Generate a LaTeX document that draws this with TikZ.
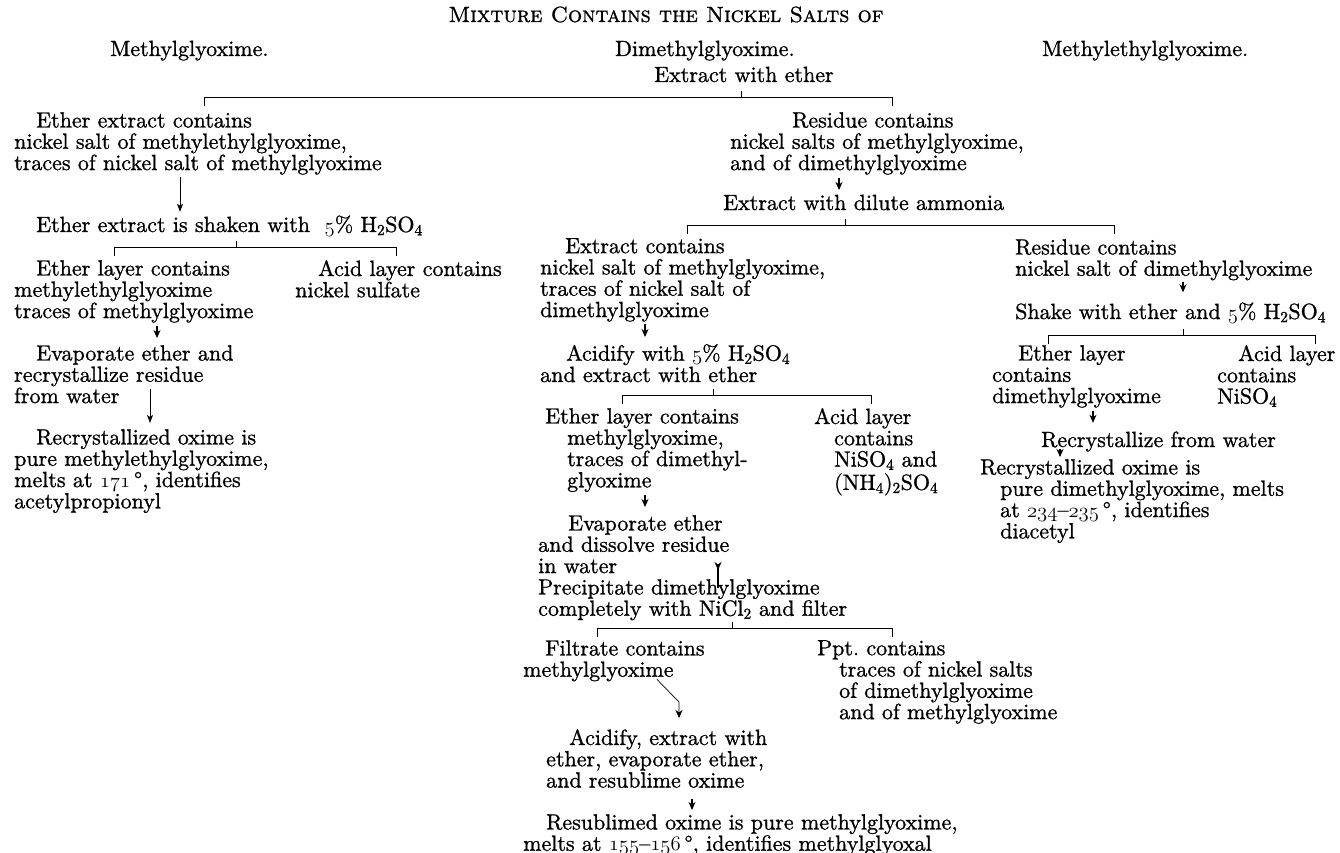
\documentclass[tikz,border=0pt]{standalone}
\usepackage{fontspec}
\setmainfont{lmroman10-regular.otf}[FakeBold=1, SmallCapsFont=lmromancaps10-regular.otf, SmallCapsFeatures={FakeBold=1}]
\usetikzlibrary{arrows.meta}
\newcommand\osn[1]{{\usefont{OML}{cmm}{m}{it}#1}}
\newcommand\sub[1]{\textsubscript{#1}}
\begin{document}
\begin{tikzpicture}[x=1pt, y=-1pt,
  every node/.style={inner sep=0pt, font=\fontsize{22}{21.3}\selectfont},
  blk/.style={anchor=north west, align=left},
  lbl/.style={anchor=base west},
  brk/.style={line width=0.8pt},
  lng/.style={line width=0.9pt, -{Stealth[length=8pt,width=6pt,inset=2pt]}},
  sht/.style={line width=1.1pt, -{Stealth[length=8pt,width=7pt,inset=2.5pt]}}]
\fill[white] (0,0) rectangle (1340,853);
\useasboundingbox (0,0) rectangle (1340,853);
\node[anchor=base] (ttl) at (666,22) {\textsc{Mixture Contains the Nickel Salts of}};
\node[lbl] (mg) at (110,56) {Methylglyoxime.};
\node[lbl] (dmg) at (615,56) {Dimethylglyoxime.};
\node[lbl] (meg) at (1042,56) {Methylethylglyoxime.};
\node[lbl] (ext) at (654,82) {Extract with ether};
\node[blk] (exA) at (14,112) {\hspace*{22pt}Ether extract contains\\nickel salt of methylethylglyoxime,\\traces of nickel salt of methylglyoxime};
\node[blk] (resA) at (730,112) {\hspace*{62pt}Residue contains\\nickel salts of methylglyoxime,\\and of dimethylglyoxime};
\node[lbl] (shk) at (36,232) {Ether extract is shaken with \ \osn{5}\% H\sub{2}SO\sub{4}};
\node[blk] (layA) at (14,260) {\hspace*{22pt}Ether layer contains\\methylethylglyoxime\\traces of methylglyoxime};
\node[blk] (acA) at (295,260) {\hspace*{23pt}Acid layer contains\\nickel sulfate};
\node[blk] (evA) at (14,345) {\hspace*{22pt}Evaporate ether and\\recrystallize residue\\from water};
\node[blk] (rcA) at (14,429) {\hspace*{22pt}Recrystallized oxime is\\pure methylethylglyoxime,\\melts at \osn{171}\,\textdegree, identifies\\acetylpropionyl};
\node[lbl] (amm) at (723,210) {Extract with dilute ammonia};
\node[blk] (exC) at (540,238) {\hspace*{25pt}Extract contains\\nickel salt of methylglyoxime,\\traces of nickel salt of\\dimethylglyoxime};
\node[blk] (acd) at (540,344) {\hspace*{26pt}Acidify with \osn{5}\% H\sub{2}SO\sub{4}\\and extract with ether};
\node[blk] (layD) at (545,408) {Ether layer contains\\\hspace*{22pt}methylglyoxime,\\\hspace*{22pt}traces of dimethyl-\\\hspace*{22pt}glyoxime};
\node[blk] (acD) at (814,408) {Acid layer\\\hspace*{20pt}contains\\\hspace*{20pt}NiSO\sub{4} and\\[2pt]\hspace*{20pt}(NH\sub{4})\sub{2}SO\sub{4}};
\node[blk] (evD) at (538,515) {\hspace*{30pt}Evaporate ether\\and dissolve residue\\in water};
\node[blk] (prc) at (538,579) {Precipitate dimethylglyoxime\\completely with NiCl\sub{2} and filter};
\node[blk] (flt) at (523,640) {\hspace*{22pt}Filtrate contains\\methylglyoxime};
\node[blk] (ppt) at (817,640) {Ppt.\ contains\\\hspace*{22pt}traces of nickel salts\\\hspace*{22pt}of dimethylglyoxime\\\hspace*{22pt}and of methylglyoxime};
\node[blk] (acx) at (546,729) {\hspace*{23pt}Acidify, extract with\\ether, evaporate ether,\\and resublime oxime};
\node[blk] (rsb) at (523,814) {\hspace*{23pt}Resublimed oxime is pure methylglyoxime,\\melts at \osn{155}--\osn{156}\,\textdegree, identifies methylglyoxal};
\node[blk] (resC) at (1015,239) {Residue contains\\nickel salt of dimethylglyoxime};
\node[lbl] (shake) at (1015,319) {Shake with ether and \osn{5}\% H\sub{2}SO\sub{4}};
\node[blk] (layF) at (992,345) {\hspace*{26pt}Ether layer\\contains\\dimethylglyoxime};
\node[blk] (acF) at (1217,345) {\hspace*{21pt}Acid layer\\contains\\NiSO\sub{4}};
\node[lbl] (rcF) at (1041,447) {Recrystallize from water};
\node[blk] (rcF2) at (980,459) {Recrystallized oxime is\\\hspace*{20pt}pure dimethylglyoxime, melts\\\hspace*{20pt}at \osn{234}--\osn{235}\,\textdegree, identifies\\\hspace*{20pt}diacetyl};
\coordinate (bAl) at (204,97);
\coordinate (bAs) at (741,97);
\coordinate (bAr) at (892,97);
\coordinate (bBl) at (114,247);
\coordinate (bBs) at (236,247);
\coordinate (bBr) at (396,247);
\coordinate (bCl) at (687,225);
\coordinate (bCs) at (845,225);
\coordinate (bCr) at (1114,225);
\coordinate (bDl) at (622,395);
\coordinate (bDs) at (713,395);
\coordinate (bDr) at (871,395);
\coordinate (bEl) at (597,628);
\coordinate (bEs) at (732,628);
\coordinate (bEr) at (892,628);
\coordinate (bFl) at (1048,335);
\coordinate (bFs) at (1183,335);
\coordinate (bFr) at (1315,335);
\draw[brk] ([yshift=-9pt]bAl) -- (bAl) -- (bAr) -- ([yshift=-9pt]bAr);
\draw[brk] (bAs) -- ([yshift=6pt]bAs);
\draw[brk] ([yshift=-9pt]bBl) -- (bBl) -- (bBr) -- ([yshift=-9pt]bBr);
\draw[brk] (bBs) -- ([yshift=6pt]bBs);
\draw[brk] ([yshift=-9pt]bCl) -- (bCl) -- (bCr) -- ([yshift=-9pt]bCr);
\draw[brk] (bCs) -- ([yshift=6pt]bCs);
\draw[brk] ([yshift=-9pt]bDl) -- (bDl) -- (bDr) -- ([yshift=-9pt]bDr);
\draw[brk] (bDs) -- ([yshift=6pt]bDs);
\draw[brk] ([yshift=-9pt]bEl) -- (bEl) -- (bEr) -- ([yshift=-9pt]bEr);
\draw[brk] (bEs) -- ([yshift=6pt]bEs);
\draw[brk] ([yshift=-9pt]bFl) -- (bFl) -- (bFr) -- ([yshift=-9pt]bFr);
\draw[brk] (bFs) -- ([yshift=6pt]bFs);
\draw[lng, shorten <=2pt, shorten >=3.5pt] (exA.south -| 180,0) -- (shk.north -| 180,0);
\draw[sht, shorten <=3pt, shorten >=4.5pt] (resA.south -| 839,0) -- (amm.north -| 839,0);
\draw[sht, shorten <=3pt, shorten >=7pt] (layA.south -| 157,0) -- (evA.north -| 157,0);
\draw[lng, shorten <=-15pt, shorten >=6pt] (evA.south -| 150,0) -- (rcA.north -| 150,0);
\draw[sht, shorten <=2pt, shorten >=7pt] (exC.south -| 645,0) -- (acd.north -| 645,0);
\draw[sht, shorten <=3pt, shorten >=8pt] (layD.south -| 645,0) -- (evD.north -| 645,0);
\draw[sht, shorten <=-14pt, shorten >=9pt] (evD.south -| 718,0) -- (prc.north -| 718,0);
\draw[sht, shorten <=1pt, shorten >=10pt] (resC.south -| 1183,0) -- (shake.north -| 1183,0);
\draw[sht, shorten <=3pt, shorten >=8.5pt] (layF.south -| 1093,0) -- (rcF.north -| 1093,0);
\draw[sht, shorten <=-3pt, shorten >=2pt] (rcF.south -| 1060,0) -- (rcF2.north -| 1060,0);
\coordinate (fk) at (679,702);
\draw[sht, line width=0.7pt, shorten <=-3pt, shorten >=11pt] (flt.south -| 659,0) -- (fk) -- (acx.north -| fk);
\draw[sht, shorten <=11pt, shorten >=4pt] (acx.south -| 692,0) -- (rsb.north -| 692,0);
\end{tikzpicture}
\end{document}
